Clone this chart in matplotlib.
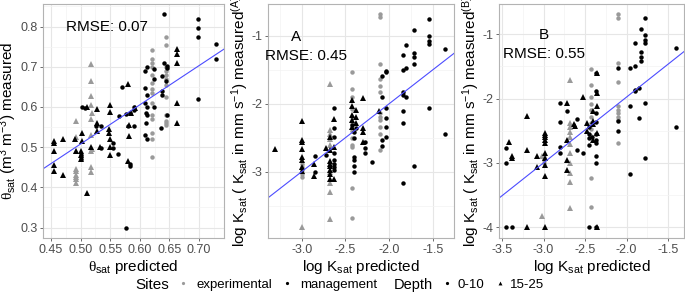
import matplotlib

matplotlib.use("Agg")
import matplotlib.pyplot as plt  # noqa: E402
from matplotlib.lines import Line2D  # noqa: E402
from matplotlib.ticker import MultipleLocator  # noqa: E402

plt.rcParams["font.family"] = ["Liberation Sans", "DejaVu Sans"]
plt.rcParams["mathtext.fontset"] = "custom"
plt.rcParams["mathtext.rm"] = "Liberation Sans"
plt.rcParams["mathtext.it"] = "Liberation Sans:italic"
plt.rcParams["mathtext.cal"] = "Liberation Serif"
plt.rcParams["axes.unicode_minus"] = False

GREY = "#9a9a9a"

# ---- panel 1: theta_sat ----
th_exp_top_x = [0.62] * 14 + [0.644] * 12
th_exp_top_y = [0.742, 0.72, 0.71, 0.70, 0.68, 0.66, 0.645, 0.635, 0.61, 0.58, 0.57, 0.535, 0.52, 0.475,
                0.773, 0.755, 0.70, 0.69, 0.68, 0.67, 0.655, 0.625, 0.58, 0.565, 0.56, 0.555]
th_exp_sub_x = [0.517] * 9 + [0.492] * 9 + [0.519, 0.519]
th_exp_sub_y = [0.708, 0.665, 0.626, 0.606, 0.53, 0.49, 0.45, 0.437, 0.57,
                0.565, 0.525, 0.49, 0.445, 0.44, 0.43, 0.425, 0.42, 0.41, 0.495, 0.585]
th_mgt_top_x = [0.64, 0.698, 0.698, 0.698, 0.728, 0.728, 0.698,
                0.608, 0.612, 0.624, 0.64, 0.645, 0.645, 0.624, 0.638, 0.644, 0.608, 0.638, 0.612, 0.638,
                0.608, 0.612, 0.624, 0.611, 0.612, 0.645, 0.611, 0.635, 0.608, 0.612,
                0.569, 0.576, 0.565, 0.583, 0.59, 0.59, 0.59, 0.58, 0.555, 0.555, 0.563, 0.576, 0.535,
                0.535, 0.503, 0.507, 0.50, 0.50, 0.526, 0.584, 0.584]
th_mgt_top_y = [0.83, 0.819, 0.796, 0.774, 0.756, 0.72, 0.62,
                0.69, 0.70, 0.695, 0.71, 0.703, 0.696, 0.67, 0.677, 0.665, 0.648, 0.64, 0.63, 0.63,
                0.61, 0.60, 0.60, 0.585, 0.58, 0.58, 0.56, 0.547, 0.53, 0.52,
                0.65, 0.582, 0.578, 0.584, 0.593, 0.60, 0.553, 0.553, 0.511, 0.497, 0.483, 0.30, 0.497,
                0.553, 0.60, 0.598, 0.48, 0.47, 0.553, 0.458, 0.452]
th_mgt_sub_x = [0.662, 0.662, 0.662, 0.662, 0.662, 0.58, 0.527, 0.549, 0.55, 0.548, 0.548, 0.55, 0.55, 0.55,
                0.527, 0.527, 0.532, 0.517, 0.503, 0.503, 0.50, 0.50, 0.50, 0.49, 0.455, 0.455, 0.455,
                0.455, 0.455, 0.47, 0.47, 0.51, 0.582, 0.582, 0.58, 0.51, 0.492, 0.585, 0.592]
th_mgt_sub_y = [0.745, 0.732, 0.71, 0.61, 0.56, 0.656, 0.595, 0.605, 0.588, 0.545, 0.535, 0.52, 0.50, 0.48,
                0.56, 0.54, 0.50, 0.50, 0.535, 0.515, 0.47, 0.48, 0.49, 0.52, 0.515, 0.51, 0.49,
                0.455, 0.44, 0.52, 0.43, 0.385, 0.528, 0.556, 0.465, 0.60, 0.49, 0.585, 0.597]

# ---- panel 2: log Ksat, model A ----
ka_exp_top_x = [-2.1] * 12 + [-2.43] * 12 + [-3.0] * 5
ka_exp_top_y = [-0.68, -0.73, -1.42, -1.64, -1.74, -1.83, -2.14, -2.19, -2.24, -2.34, -2.44, -2.68,
                -1.54, -1.78, -1.9, -2.08, -2.19, -2.3, -2.4, -2.5, -2.6, -2.63, -3.24, -3.68,
                -2.88, -2.93, -2.98, -3.03, -3.08]
ka_exp_sub_x = [-2.68] * 9 + [-3.0] * 2
ka_exp_sub_y = [-1.71, -2.39, -2.45, -2.52, -2.6, -3.01, -3.16, -3.3, -3.7, -3.82, -2.93]
ka_mgt_top_x = [-1.55, -1.55, -1.55, -1.55, -1.55, -1.36, -1.36, -1.72, -1.72, -1.72, -1.72, -1.72,
                -1.84, -1.84, -1.84, -1.84, -1.84, -1.84, -1.84, -1.81, -1.81, -1.81,
                -2.04, -2.04, -2.04, -2.04, -2.04, -2.04, -2.08, -2.08, -2.08, -2.08, -2.2,
                -2.28, -2.28, -2.28, -2.4, -2.4, -2.4, -2.4, -2.4, -2.4,
                -2.63, -2.63, -2.63, -2.63, -2.63, -2.63, -2.63, -2.63, -2.85, -2.85, -2.72, -2.43, -2.38]
ka_mgt_top_y = [-0.75, -1.0, -1.08, -1.12, -2.07, -1.2, -2.44, -0.91, -1.25, -1.32, -1.41, -2.92,
                -1.28, -1.51, -1.83, -1.87, -2.11, -2.29, -3.16, -1.13, -1.48, -1.9,
                -1.52, -1.54, -2.07, -2.21, -2.34, -2.49, -1.59, -1.9, -2.53, -2.62, -2.86,
                -2.57, -2.65, -2.72, -2.41, -2.51, -2.78, -2.83, -2.91, -3.01,
                -2.07, -2.35, -2.49, -2.73, -2.83, -2.88, -2.93, -2.98, -2.77, -3.01, -2.75, -2.32, -2.36]
ka_mgt_sub_x = [-3.3, -3.0, -3.0, -3.0, -3.0, -3.0, -3.0, -3.0, -3.0, -2.86, -2.86,
                -2.68, -2.68, -2.68, -2.68, -2.68, -2.68, -2.68, -2.68, -2.63, -2.63, -2.63,
                -2.43, -2.43, -2.43, -2.43, -2.43, -2.38, -2.38, -2.38, -2.3, -2.3, -2.3, -2.3, -2.12, -2.72]
ka_mgt_sub_y = [-2.66, -2.26, -2.53, -2.57, -2.66, -2.78, -2.83, -2.93, -2.99, -2.88, -3.07,
                -2.49, -2.68, -2.84, -2.88, -2.91, -2.97, -3.04, -3.1, -2.23, -2.63, -3.1,
                -1.95, -2.04, -2.17, -2.24, -2.34, -2.09, -2.19, -2.29, -1.92, -2.35, -2.41, -2.57, -2.11, -2.65]

# ---- panel 3: log Ksat, model B ----
kb_exp_top_x = [-2.1] * 10 + [-2.43] * 11 + [-3.0] * 4
kb_exp_top_y = [-0.68, -0.74, -1.44, -1.75, -2.12, -2.18, -2.23, -2.28, -2.33, -2.69,
                -1.54, -1.79, -1.98, -2.08, -2.18, -2.28, -2.38, -2.48, -2.58, -3.24, -3.68,
                -2.88, -2.92, -2.96, -3.0]
kb_exp_sub_x = [-2.68] * 11 + [-3.02] * 2
kb_exp_sub_y = [-1.71, -2.38, -2.45, -2.52, -2.6, -2.7, -2.85, -3.0, -3.16, -3.3, -3.7, -3.82, -2.9]
kb_mgt_top_x = [-1.78, -1.78, -1.78, -1.78, -1.78, -1.78, -1.41, -1.41, -1.83, -1.83, -1.83, -1.83,
                -1.9, -1.9, -1.9, -1.9, -1.96, -1.96, -1.96, -1.85, -1.85, -2.1, -2.1, -2.1,
                -2.37, -2.37, -2.37, -2.37, -2.37, -2.37, -2.37, -2.37, -2.37, -2.37,
                -2.45, -2.45, -2.45, -2.45, -2.45, -2.6, -2.6, -2.8, -2.8, -2.8, -2.8,
                -3.45, -3.45, -3.45, -3.38, -2.72, -2.52, -2.42]
kb_mgt_top_y = [-0.75, -1.01, -1.09, -1.13, -2.07, -2.93, -1.21, -2.44, -0.92, -1.27, -1.35, -1.42,
                -1.13, -1.49, -1.87, -1.89, -1.52, -2.11, -3.17, -1.84, -2.30, -1.53, -2.35, -2.50,
                -1.6, -1.89, -2.22, -2.36, -2.55, -2.64, -2.69, -2.9, -3.0, -4.0,
                -2.44, -2.55, -2.62, -2.72, -4.0, -2.32, -2.8, -2.07, -2.36, -2.75, -2.85,
                -2.77, -3.0, -4.0, -4.0, -2.2, -2.85, -2.6]
kb_mgt_sub_x = [-3.42, -3.38, -3.38, -3.2, -3.2, -3.2, -3.08, -3.08,
                -2.98, -2.98, -2.98, -2.98, -2.98, -2.98, -2.98, -2.98, -2.98, -2.98,
                -2.72, -2.72, -2.72, -2.72, -2.62, -2.53, -2.48, -2.48,
                -2.4, -2.4, -2.4, -2.4, -2.35, -2.35, -2.35, -2.35, -2.35, -2.63]
kb_mgt_sub_y = [-2.67, -2.89, -2.93, -2.27, -2.8, -4.0, -2.9, -3.07,
                -2.53, -2.56, -2.6, -2.64, -2.69, -2.85, -2.93, -3.04, -3.21, -4.0,
                -2.07, -2.64, -2.95, -3.11, -2.43, -1.97, -2.38, -2.51,
                -2.2, -2.35, -2.4, -2.64, -1.61, -1.91, -2.11, -2.53, -4.0, -2.4]

# fitted lines (slope, intercept) and RMSE per panel
fit_slope = [0.975, 1.0, 1.023]
fit_icept = [0.0204, 0.0, 0.068]
rmse_text = ["RMSE: 0.07", "RMSE: 0.45", "RMSE: 0.55"]
panel_tag = ["", "A", "B"]

# legend entries: label, colour, marker
legend_sites = [("experimental", GREY, "o"), ("management", "black", "o")]
legend_depth = [("0-10", "black", "o"), ("15-25", "black", "^")]

fig = plt.figure(figsize=(6.85, 2.95), dpi=100)
axes = [
    fig.add_axes([0.0628, 0.1932, 0.2642, 0.7932]),
    fig.add_axes([0.3912, 0.1932, 0.2715, 0.7932]),
    fig.add_axes([0.7285, 0.1932, 0.2700, 0.7932]),
]

groups = [
    [(th_exp_top_x, th_exp_top_y, GREY, "o"), (th_exp_sub_x, th_exp_sub_y, GREY, "^"),
     (th_mgt_top_x, th_mgt_top_y, "black", "o"), (th_mgt_sub_x, th_mgt_sub_y, "black", "^")],
    [(ka_exp_top_x, ka_exp_top_y, GREY, "o"), (ka_exp_sub_x, ka_exp_sub_y, GREY, "^"),
     (ka_mgt_top_x, ka_mgt_top_y, "black", "o"), (ka_mgt_sub_x, ka_mgt_sub_y, "black", "^")],
    [(kb_exp_top_x, kb_exp_top_y, GREY, "o"), (kb_exp_sub_x, kb_exp_sub_y, GREY, "^"),
     (kb_mgt_top_x, kb_mgt_top_y, "black", "o"), (kb_mgt_sub_x, kb_mgt_sub_y, "black", "^")],
]

limits = [((0.4365, 0.742), (0.274, 0.856)),
          ((-3.385, -1.26), (-3.975, -0.534)),
          ((-3.536, -1.308), (-4.17, -0.53))]
xsteps = [(0.05, 0.025), (0.5, 0.25), (0.5, 0.25)]
ysteps = [(0.1, 0.05), (1.0, 0.5), (1.0, 0.5)]
xfmt = ["{:.2f}", "{:.1f}", "{:.1f}"]
yfmt = ["{:.1f}", "{:.0f}", "{:.0f}"]
THETA = r"$\mathcal{θ}_{\mathrm{sat}}$"
KSAT = r"K$_{\mathrm{sat}}$"
xlabels = [THETA + " predicted", "log " + KSAT + " predicted", "log " + KSAT + " predicted"]
ylabels = [THETA + r" (m$^3$ m$^{-3}$) measured",
           "log " + KSAT + " ( " + KSAT + r" in mm s$^{-1}$) measured$^{\mathrm{(A)}}$",
           "log " + KSAT + " ( " + KSAT + r" in mm s$^{-1}$) measured$^{\mathrm{(B)}}$"]
tag_pos = [None, (-3.07, -1.02), (-3.0, -1.01)]
rmse_pos = [(0.5446, 0.80), (-2.95, -1.30), (-3.0, -1.30)]

for i, ax in enumerate(axes):
    ax.set_xlim(*limits[i][0])
    ax.set_ylim(*limits[i][1])
    ax.xaxis.set_major_locator(MultipleLocator(xsteps[i][0]))
    ax.xaxis.set_minor_locator(MultipleLocator(xsteps[i][1]))
    ax.yaxis.set_major_locator(MultipleLocator(ysteps[i][0]))
    ax.yaxis.set_minor_locator(MultipleLocator(ysteps[i][1]))
    ax.xaxis.set_major_formatter(plt.FuncFormatter(lambda v, p, f=xfmt[i]: f.format(v)))
    ax.yaxis.set_major_formatter(plt.FuncFormatter(lambda v, p, f=yfmt[i]: f.format(v)))
    ax.grid(which="major", color="#e6e6e6", lw=0.8)
    ax.grid(which="minor", color="#f3f3f3", lw=0.5)
    ax.set_axisbelow(True)
    for s in ax.spines.values():
        s.set_color("#b3b3b3")
        s.set_linewidth(0.8)
    ax.tick_params(which="major", length=2.5, width=0.6, color="#555555", labelcolor="#4d4d4d",
                   labelsize=9, pad=1.5)
    ax.tick_params(which="minor", length=0)

    for gx, gy, c, m in groups[i]:
        ax.plot(gx, gy, ls="none", marker=m, color=c, ms=3.2 if m == "o" else 3.8, mew=0)
    ax.axline((0, fit_icept[i]), slope=fit_slope[i], color="#4c4cff", lw=0.8)

    ax.text(*rmse_pos[i], rmse_text[i], fontsize=11, ha="center", va="center")
    if tag_pos[i] is not None:
        ax.text(*tag_pos[i], panel_tag[i], fontsize=11, ha="center", va="center")
    ax.set_xlabel(xlabels[i], fontsize=11, labelpad=2)
    ax.set_ylabel(ylabels[i], fontsize=11, labelpad=1)

# legend row at bottom: one small legend per key, placed at the reference's key positions
LEG_Y = 0.034
fig.text(135 / 685, LEG_Y, "Sites", fontsize=11, va="center")
fig.text(394 / 685, LEG_Y, "Depth", fontsize=10.5, va="center")
key_x = [178, 282, 442, 495]
key_pad = [0.58, 0.58, 0.36, 0.36]
for (label, col, mk), x0, pad in zip(legend_sites + legend_depth, key_x, key_pad):
    h = Line2D([], [], ls="none", marker=mk, color=col, ms=2.3 if mk == "o" else 2.8, mew=0)
    fig.legend([h], [label], loc="center left", bbox_to_anchor=(x0 / 685, LEG_Y), frameon=False,
               fontsize=9.5, handlelength=0.8, handletextpad=pad, borderpad=0, borderaxespad=0)

fig.savefig("out.png", dpi=100)
